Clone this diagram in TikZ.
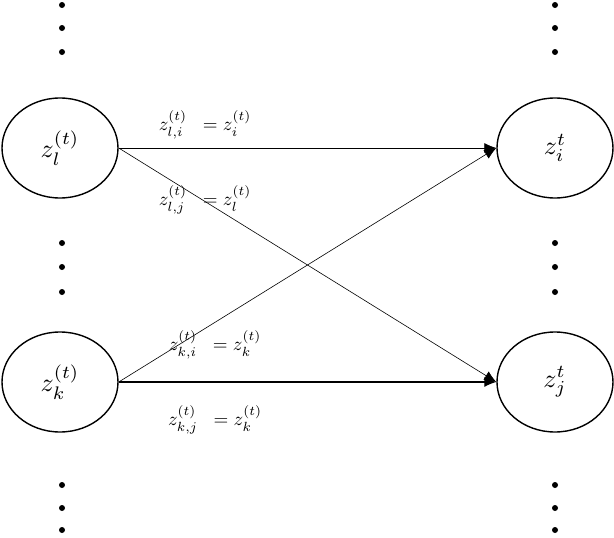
\documentclass[tikz,border=0pt]{standalone}
\usepackage{graphicx}
\usetikzlibrary{arrows.meta,shapes.geometric}
\begin{document}
\begin{tikzpicture}[x=1pt,y=-1pt,
  var/.style={draw,line width=1.4pt,ellipse,minimum width=116pt,minimum height=100pt,inner sep=0pt},
  dot/.style={circle,fill=black,inner sep=0pt,minimum size=6pt},
  lbl/.style={inner sep=0pt},
  edge/.style={-{Latex[length=12pt,width=10pt]},line width=0.6pt}]
\useasboundingbox (0,0) rectangle (614,538);
\node[var] (l) at (60,148) {\scalebox{2.6}{$z_l^{(t)}$}};
\node[var] (k) at (60,382) {\scalebox{2.6}{$z_k^{(t)}$}};
\node[var] (i) at (555,148) {\scalebox{2.6}{$z_i^{t}$}};
\node[var] (j) at (555,382) {\scalebox{2.6}{$z_j^{t}$}};
\foreach \x/\n in {62/a,555/b}{
  \foreach \y/\m in {5/1,28/2,52/3,243/4,267/5,292/6,485/7,508/8,530/9}{
    \node[dot] (d\n\m) at (\x,\y) {};}}
\draw[edge] (l.east) -- (i.west);
\draw[edge] (l.east) -- (j.west);
\draw[edge] (k.east) -- (i.west);
\draw[edge,line width=1.2pt] (k.east) -- (j.west);
\node[lbl] (t1) at (205,125) {\scalebox{1.9}{$z_{l,i}^{(t)}\;\;=z_i^{(t)}$}};
\node[lbl] (t2) at (205,200) {\scalebox{1.9}{$z_{l,j}^{(t)}\;\;=z_l^{(t)}$}};
\node[lbl] (t3) at (215,345) {\scalebox{1.9}{$z_{k,i}^{(t)}\;\;=z_k^{(t)}$}};
\node[lbl] (t4) at (215,420) {\scalebox{1.9}{$z_{k,j}^{(t)}\;\;=z_k^{(t)}$}};
\end{tikzpicture}
\end{document}
